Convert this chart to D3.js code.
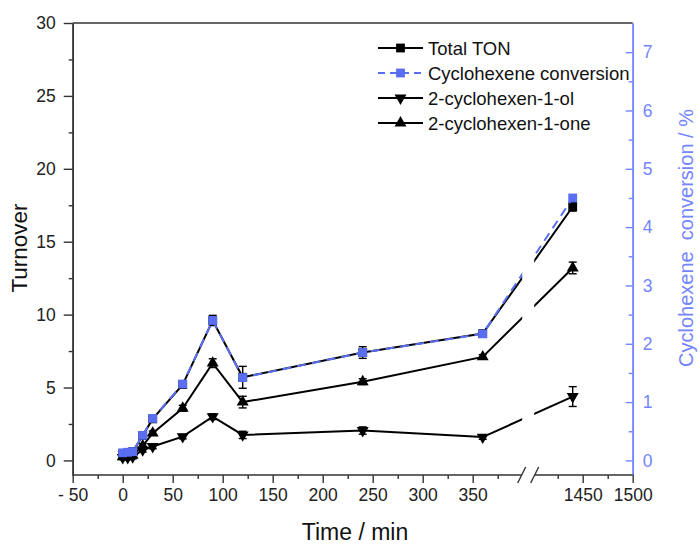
<!DOCTYPE html>
<html>
<head>
<meta charset="utf-8">
<script src="https://cdn.jsdelivr.net/npm/d3@7"></script>
<style>
  html, body { margin: 0; padding: 0; background: #fff; }
  svg { display: block; font-family: "Liberation Sans", Arial, sans-serif; }
</style>
</head>
<body>
<svg id="chart" width="700" height="545"></svg>
<script>
// Reaction time points (min)
const times = [0, 5, 10, 20, 30, 60, 90, 120, 240, 360, 1440];
// Total turnover number and its error
const totalTON = [0.45, 0.5, 0.6, 1.7, 2.85, 5.2, 9.6, 5.7, 7.4, 8.7, 17.4];
const totalErr = [0.15, 0.15, 0.15, 0.2, 0.2, 0.2, 0.35, 0.75, 0.4, 0.2, 0.3];
// Cyclohexene conversion (%)
const conversion = [0.13, 0.14, 0.15, 0.43, 0.72, 1.31, 2.4, 1.42, 1.85, 2.17, 4.5];
// 2-cyclohexen-1-ol turnover
const olTON = [0.2, 0.2, 0.25, 0.72, 0.95, 1.63, 3.0, 1.75, 2.05, 1.6, 4.38];
const olErr = [0.15, 0.15, 0.15, 0.15, 0.15, 0.15, 0.2, 0.25, 0.25, 0.15, 0.68];
// 2-cyclohexen-1-one turnover
const oneTON = [0.25, 0.3, 0.35, 1.0, 1.87, 3.58, 6.67, 4.0, 5.4, 7.1, 13.2];
const oneErr = [0.15, 0.15, 0.15, 0.15, 0.15, 0.2, 0.3, 0.4, 0.2, 0.15, 0.4];

// Axis ticks
const xMajorA = [-50, 0, 50, 100, 150, 200, 250, 300, 350];
const xMinorA = [-25, 25, 75, 125, 175, 225, 275, 325, 375];
const xMajorB = [1450, 1500];
const xMinorB = [1425, 1475];
const yMajor = [0, 5, 10, 15, 20, 25, 30];
const yMinor = [2.5, 7.5, 12.5, 17.5, 22.5, 27.5];
const yRMajor = [0, 1, 2, 3, 4, 5, 6, 7];
const yRMinor = [0.5, 1.5, 2.5, 3.5, 4.5, 5.5, 6.5];

const legendNames = ["Total TON", "Cyclohexene conversion", "2-cyclohexen-1-ol", "2-cyclohexen-1-one"];

const BLUE = "#5a6ef2";
const AXBLUE = "#7385ff";
const AX = "#333";

const svg = d3.select("#chart");

const plotL = 72.7, plotR = 632.7, plotT = 23, plotB = 475;
const breakL = 522.7, breakR = 532.7;

// Broken time axis: two linear pieces
const xA = d3.scaleLinear().domain([-50, 400]).range([plotL, breakL]);
const xB = d3.scaleLinear().domain([1400, 1500]).range([breakR, plotR]);
const xPos = t => (t <= 400 ? xA(t) : xB(t));

const y = d3.scaleLinear().domain([-1, 30]).range([plotB, plotT]);
const yR = d3.scaleLinear().domain([-0.25, 7.5]).range([plotB, plotT]);

// Clip for lines crossing the axis break
const defs = svg.append("defs");
const clip = defs.append("clipPath").attr("id", "gapClip");
clip.append("rect").attr("x", 0).attr("y", 0).attr("width", breakL - 0.5).attr("height", 545);
clip.append("rect").attr("x", breakR + 1.5).attr("y", 0).attr("width", 700).attr("height", 545);

// ---- Axes ----
function styleAxis(g, color) {
  g.selectAll("path.domain").attr("stroke", color).attr("stroke-width", 1.6);
  g.selectAll(".tick line").attr("stroke", color).attr("stroke-width", 1.4);
  g.selectAll(".tick text").attr("fill", color === AX ? "#222" : color)
    .style("font-size", "17.5px").style("font-family", "'Liberation Sans', Arial, sans-serif");
}

// Top frame line
svg.append("line").attr("x1", plotL).attr("x2", plotR).attr("y1", plotT).attr("y2", plotT)
  .attr("stroke", AX).attr("stroke-width", 1.6);

// Left axis
const gL = svg.append("g").attr("transform", `translate(${plotL},0)`);
gL.call(d3.axisLeft(y).tickValues(yMajor).tickSize(9).tickSizeOuter(0).tickPadding(8));
styleAxis(gL, AX);
const gLm = svg.append("g").attr("transform", `translate(${plotL},0)`);
gLm.call(d3.axisLeft(y).tickValues(yMinor).tickSize(4).tickSizeOuter(0).tickFormat(""));
styleAxis(gLm, AX);

// Right axis (ticks inward)
const gR = svg.append("g").attr("transform", `translate(${plotR},0)`);
gR.call(d3.axisRight(yR).tickValues(yRMajor).tickSize(-7).tickSizeOuter(0).tickPadding(10));
styleAxis(gR, AXBLUE);
const gRm = svg.append("g").attr("transform", `translate(${plotR},0)`);
gRm.call(d3.axisRight(yR).tickValues(yRMinor).tickSize(-4).tickSizeOuter(0).tickFormat(""));
styleAxis(gRm, AXBLUE);

// Bottom axis, two pieces
const fmtX = d => (d < 0 ? "- " + Math.abs(d) : String(d));
const gA = svg.append("g").attr("transform", `translate(0,${plotB})`);
gA.call(d3.axisBottom(xA).tickValues(xMajorA).tickSize(8).tickSizeOuter(0).tickPadding(6).tickFormat(fmtX));
styleAxis(gA, AX);
gA.select("path.domain").attr("d", `M${plotL},0H${breakL - 1}`);
const gAm = svg.append("g").attr("transform", `translate(0,${plotB})`);
gAm.call(d3.axisBottom(xA).tickValues(xMinorA).tickSize(4).tickSizeOuter(0).tickFormat(""));
styleAxis(gAm, AX);
gAm.select("path.domain").remove();

const gB = svg.append("g").attr("transform", `translate(0,${plotB})`);
gB.call(d3.axisBottom(xB).tickValues(xMajorB).tickSize(8).tickSizeOuter(0).tickPadding(6).tickFormat(fmtX));
styleAxis(gB, AX);
gB.select("path.domain").attr("d", `M${breakR + 2},0H${plotR}`);
const gBm = svg.append("g").attr("transform", `translate(0,${plotB})`);
gBm.call(d3.axisBottom(xB).tickValues(xMinorB).tickSize(4).tickSizeOuter(0).tickFormat(""));
styleAxis(gBm, AX);
gBm.select("path.domain").remove();

// Break marks
[breakL - 1, breakR + 2].forEach(bx => {
  svg.append("line")
    .attr("x1", bx - 4).attr("y1", plotB + 8)
    .attr("x2", bx + 4).attr("y2", plotB - 8)
    .attr("stroke", AX).attr("stroke-width", 1.4);
});

// Axis titles
svg.append("text").attr("x", 355).attr("y", 540).attr("text-anchor", "middle")
  .style("font-size", "23px").attr("fill", "#111").text("Time / min");
svg.append("text").attr("transform", "translate(27,248) rotate(-90)").attr("text-anchor", "middle")
  .style("font-size", "22.5px").attr("fill", "#111").text("Turnover");
svg.append("text").attr("transform", "translate(693,238) rotate(-90)").attr("text-anchor", "middle")
  .style("font-size", "20px").style("white-space", "pre").attr("xml:space", "preserve")
  .attr("fill", AXBLUE).text("Cyclohexene  conversion / %");

// ---- Series ----
const sqr = d3.symbol().type(d3.symbolSquare).size(78);
const tri = d3.symbol().type(d3.symbolTriangle).size(62);

function drawSeries(vals, errs, scale, opts) {
  const pts = times.map((t, i) => ({ x: xPos(t), y: scale(vals[i]), v: vals[i], e: errs ? errs[i] : 0 }));
  const line = d3.line().x(d => d.x).y(d => d.y);
  const g = svg.append("g");
  g.append("path").datum(pts).attr("d", line).attr("fill", "none")
    .attr("stroke", opts.color).attr("stroke-width", 2)
    .attr("stroke-dasharray", opts.dash || null)
    .attr("clip-path", "url(#gapClip)");
  if (errs) {
    const eg = g.append("g").attr("stroke", "#000").attr("stroke-width", 1.4);
    pts.forEach(p => {
      const y1 = scale(p.v + p.e), y2 = scale(p.v - p.e);
      eg.append("line").attr("x1", p.x).attr("x2", p.x).attr("y1", y1).attr("y2", y2);
      eg.append("line").attr("x1", p.x - 4).attr("x2", p.x + 4).attr("y1", y1).attr("y2", y1);
      eg.append("line").attr("x1", p.x - 4).attr("x2", p.x + 4).attr("y1", y2).attr("y2", y2);
    });
  }
  g.selectAll("path.mk").data(pts).join("path").attr("class", "mk")
    .attr("d", opts.symbol)
    .attr("transform", d => `translate(${d.x},${d.y})${opts.down ? " rotate(180)" : ""}`)
    .attr("fill", opts.color);
}

drawSeries(olTON, olErr, y, { color: "#000", symbol: tri, down: true });
drawSeries(oneTON, oneErr, y, { color: "#000", symbol: tri });
drawSeries(totalTON, totalErr, y, { color: "#000", symbol: sqr });
drawSeries(conversion, null, yR, { color: BLUE, symbol: sqr, dash: "9,6" });

// ---- Legend ----
const legend = svg.append("g");
const rows = [
  { color: "#000", symbol: sqr, dash: null },
  { color: BLUE, symbol: sqr, dash: "7,5" },
  { color: "#000", symbol: tri, down: true },
  { color: "#000", symbol: tri }
];
const ly0 = 48, ldy = 25;
rows.forEach((r, i) => {
  const yy = ly0 + i * ldy;
  legend.append("line").attr("x1", 378).attr("x2", 423).attr("y1", yy).attr("y2", yy)
    .attr("stroke", r.color).attr("stroke-width", 2).attr("stroke-dasharray", r.dash || null);
  legend.append("path").attr("d", r.symbol)
    .attr("transform", `translate(400.5,${yy})${r.down ? " rotate(180)" : ""}`)
    .attr("fill", r.color);
  legend.append("text").attr("x", 428).attr("y", yy + 6.5)
    .style("font-size", "18.5px").attr("fill", "#111").text(legendNames[i]);
});
</script>
</body>
</html>
